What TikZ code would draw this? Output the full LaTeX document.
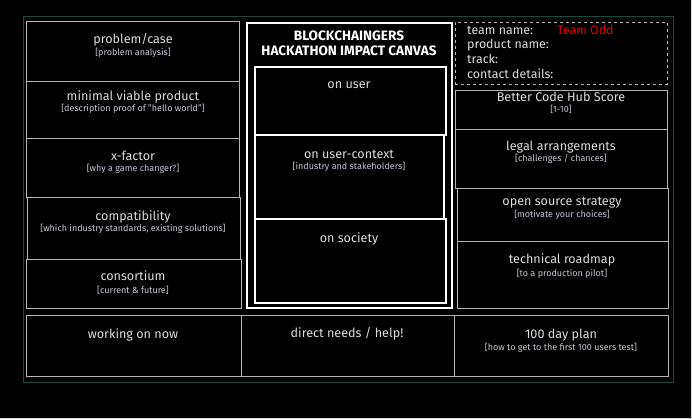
\documentclass[tikz,border=0pt]{standalone}
\usepackage{fontspec}
\setmainfont{Fira Sans}
\begin{document}
\begin{tikzpicture}[x=1pt,y=-1pt,
  box/.style={draw=boxgrey, line width=0.9pt, anchor=north west, inner sep=0pt},
  cbox/.style={draw=white, line width=1.6pt, anchor=north west, inner sep=0pt},
  ttl/.style={text=txtgrey, font=\fontsize{12.6}{14}\selectfont, inner sep=0pt, text height=0.55em, text depth=0.25em, yshift=-2.8pt},
  sub/.style={text=subgrey, font=\fontsize{9}{10}\selectfont, inner sep=0pt, text height=0.55em, text depth=0.25em, yshift=-2.5pt},
  info/.style={text=txtgrey, font=\fontsize{12.4}{14}\selectfont, inner sep=0pt, anchor=west, text height=0.55em, text depth=0.25em, yshift=-2.8pt}]
\definecolor{boxgrey}{HTML}{B4B4B4}
\definecolor{txtgrey}{HTML}{DCDCDC}
\definecolor{subgrey}{HTML}{C4C8D4}
\definecolor{frame}{HTML}{1E4A3C}
\definecolor{oddred}{HTML}{E00000}
\fill[black] (0,0) rectangle (692,419);
\useasboundingbox (0,0) rectangle (692,419);
\draw[boxgrey!60, line width=0.8pt] (0,418.6) -- (691.6,418.6) -- (691.6,0);
% outer frame
\node[draw=frame, line width=0.8pt, anchor=north west, minimum width=650, minimum height=366, inner sep=0pt] (frame) at (23,16) {};
% left column
\node[box, minimum width=213, minimum height=60] (problem) at (26,21) {};
\node[box, minimum width=213, minimum height=57] (mvp) at (26,81) {};
\node[box, minimum width=213, minimum height=59] (xfactor) at (26,138) {};
\node[box, minimum width=213, minimum height=62] (compat) at (27,197) {};
\node[box, minimum width=215, minimum height=49] (consort) at (26,259) {};
% bottom row
\node[box, minimum width=215, minimum height=61] (working) at (26,315) {};
\node[box, minimum width=213, minimum height=61] (direct) at (241,315) {};
\node[box, minimum width=214, minimum height=61] (plan) at (454,315) {};
% centre
\node[cbox, minimum width=205, minimum height=285] (canvas) at (246,22) {};
\node[cbox, minimum width=191, minimum height=68] (onuser) at (254,66) {};
\node[cbox, minimum width=189, minimum height=84] (context) at (254,134) {};
\node[cbox, minimum width=191, minimum height=84] (society) at (254,218) {};
% right column
\node[draw=boxgrey, dashed, line width=0.8pt, anchor=north west, inner sep=0pt, minimum width=212, minimum height=62] (team) at (455,22) {};
\node[box, minimum width=212, minimum height=39] (bch) at (455,90) {};
\node[box, minimum width=212, minimum height=59] (legal) at (455,129) {};
\node[box, minimum width=211, minimum height=53] (oss) at (457,188) {};
\node[box, minimum width=211, minimum height=67] (roadmap) at (457,241) {};
% texts
\node[ttl] (t1) at (133,39) {problem/case};
\node[sub] (s1) at (133,52) {[problem analysis]};
\node[ttl] (t2) at (133,96) {minimal viable product};
\node[sub] (s2) at (133,108) {[description proof of "hello world"]};
\node[ttl] (t3) at (133,156) {x-factor};
\node[sub] (s3) at (133,168) {[why a game changer?]};
\node[ttl] (t4) at (133,216) {compatibility};
\node[sub] (s4) at (133,228) {[which industry standards, existing solutions]};
\node[ttl] (t5) at (133,276) {consortium};
\node[sub] (s5) at (133,289) {[current \& future]};
\node[ttl] (t6) at (133,334) {working on now};
\node[ttl] (t7) at (347,333) {direct needs / help!};
\node[ttl] (t8) at (561,334) {100 day plan};
\node[sub] (s8) at (561,346) {[how to get to the first 100 users test]};
\node[text=white, font=\fontsize{13.6}{15}\bfseries\selectfont, align=center, inner sep=0pt] (title) at (349,43.5) {BLOCKCHAINGERS\\[0pt]HACKATHON IMPACT CANVAS};
\node[ttl] (t9) at (349,84) {on user};
\node[ttl] (t10) at (349,154) {on user-context};
\node[sub] (s10) at (349,166) {[industry and stakeholders]};
\node[ttl] (t11) at (349,238) {on society};
\node[info] (i1) at (467,30) {team name:};
\node[info, text=oddred] (i1b) at (557,30) {Team Odd};
\node[info] (i2) at (467,44) {product name:};
\node[info] (i3) at (467,59) {track:};
\node[info] (i4) at (467,74) {contact details:};
\node[ttl] (t12) at (561,97) {Better Code Hub Score};
\node[sub] (s12) at (561,109) {[1-10]};
\node[ttl] (t13) at (561,146) {legal arrangements};
\node[sub] (s13) at (561,158) {[challenges / chances]};
\node[ttl] (t14) at (562,201) {open source strategy};
\node[sub] (s14) at (562,214) {[motivate your choices]};
\node[ttl] (t15) at (562,259) {technical roadmap};
\node[sub] (s15) at (562,272) {[to a production pilot]};
\end{tikzpicture}
\end{document}
